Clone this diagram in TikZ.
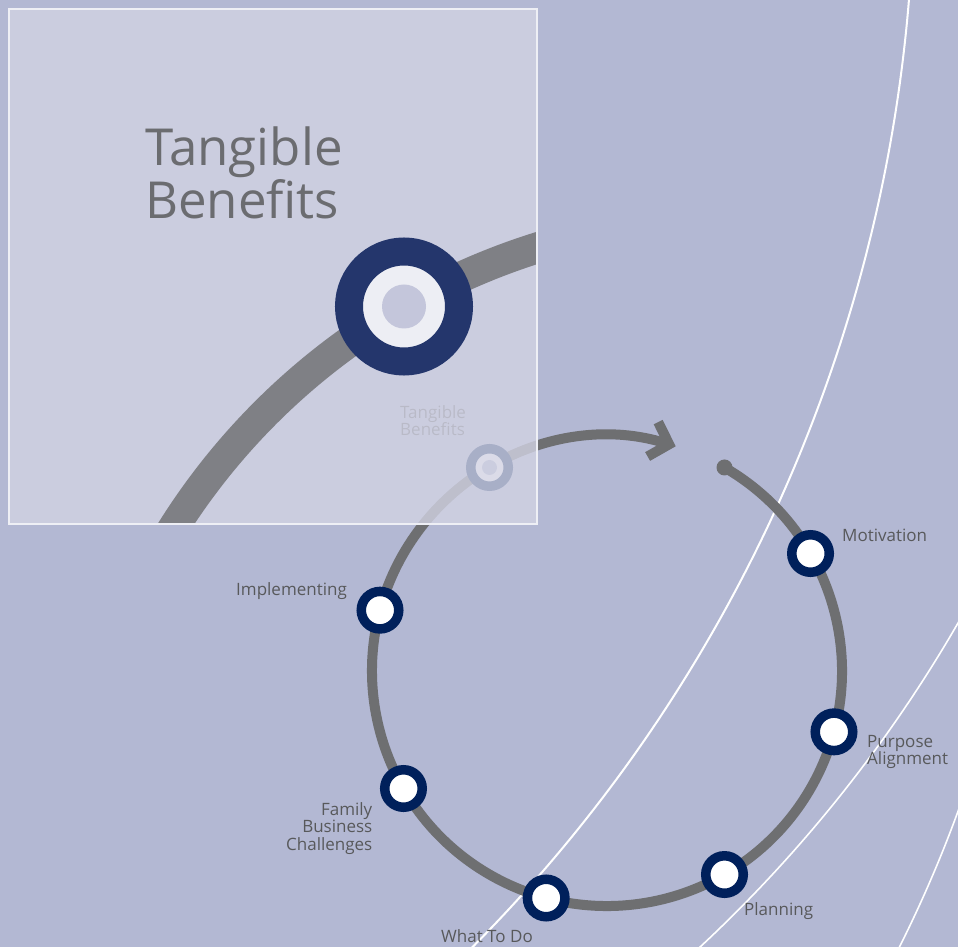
\documentclass[tikz,border=0pt]{standalone}
\usepackage{fontspec}
\setmainfont{Open Sans}
\usetikzlibrary{arrows.meta}
\definecolor{backColor}{RGB}{179,184,211}
\definecolor{pathColor}{RGB}{110,111,113}
\definecolor{stepColor}{RGB}{0,32,91}
\definecolor{labelColor}{RGB}{88,89,91}
\definecolor{insetColor}{RGB}{210,211,227}
\definecolor{insetLineColor}{RGB}{238,239,245}
\definecolor{zoomPathColor}{RGB}{127,128,133}
\definecolor{zoomStepColor}{RGB}{36,54,108}
\definecolor{zoomWhite}{RGB}{237,238,244}
\definecolor{zoomCentreColor}{RGB}{196,198,219}
\definecolor{titleColor}{RGB}{107,108,112}
\tikzstyle{pixels} = [x = 1pt, y = -1pt]
\tikzstyle{swoosh} = [color=white, line width=2pt]
\tikzstyle{thinSwoosh} = [color=white, line width=1.6pt]
\tikzstyle{cyclePath} = [color=pathColor, line width=10pt, -{Straight Barb[length=17pt, width=36pt]}]
\tikzstyle{startDot} = [circle, fill=pathColor, minimum size=16pt, inner sep=0pt]
\tikzstyle{stepStyle} = [circle, draw=stepColor, line width=9.5pt, fill=white, minimum size=37.5pt, inner sep=0pt]
\tikzstyle{stepText} = [color=labelColor, inner sep=0pt, font=\fontsize{17}{17.5}\selectfont]
\tikzstyle{insetStyle} = [fill=insetColor, fill opacity=.8, draw=insetLineColor, line width=2.5pt]
\tikzstyle{zoomPath} = [color=zoomPathColor, line width=31pt]
\tikzstyle{zoomStep} = [circle, draw=zoomStepColor, line width=28pt, fill=zoomWhite, minimum size=110pt, inner sep=0pt]
\tikzstyle{titleText} = [color=titleColor, inner sep=0pt, align=left, font=\fontsize{51}{50}\selectfont]
\newcommand{\stepNode}[2]{\path (centre) ++(#2:235) node [stepStyle] (#1) {};}
\newcommand{\insetBox}{(9,9) rectangle (537,524)}
\begin{document}
\begin{tikzpicture}[pixels]
  \useasboundingbox (0,0) rectangle (958,947);
  \fill [backColor] (0,0) rectangle (958,947);

  % white swooshes
  \begin{scope}
    \clip (0,0) rectangle (958,947);
    \draw [swoosh] (-606,-124) ++(4:1520) arc [start angle=4, end angle=46, radius=1520];
    \draw [thinSwoosh] (-255,-78) ++(29:1401) arc [start angle=29, end angle=48, radius=1401];
    \draw [thinSwoosh] (-263,365) ++(19:1300) arc [start angle=19, end angle=28, radius=1300];
  \end{scope}

  % the cycle
  \coordinate (centre) at (607,671);
  \path (centre) ++(-60:235) node [startDot] (start) {};
  \draw [cyclePath] (start.center) arc [start angle=-60, end angle=287, radius=235];
  \foreach \name/\angle in {motivation/-30, purpose/15, planning/60, whatToDo/105, family/150, implementing/195, benefits/240} {
    \stepNode{\name}{\angle}
  }
  \fill [backColor] (benefits.center) circle [radius=7.5];

  \node [stepText, anchor=base west] (motivationText) at (842,541) {Motivation};
  \node [stepText, anchor=north west, align=left] (purposeText) at (867,735) {Purpose\\Alignment};
  \node [stepText, anchor=base west] (planningText) at (744,915) {Planning};
  \node [stepText, anchor=base west] (whatToDoText) at (441,942) {What To Do};
  \node [stepText, anchor=north east, align=right] (familyText) at (372.5,802) {Family\\Business\\Challenges};
  \node [stepText, anchor=base west] (implementingText) at (236,595) {Implementing};
  \node [stepText, anchor=north west, align=left] (benefitsText) at (400,405) {Tangible\\Benefits};

  % zoomed inset
  \fill [insetStyle] \insetBox;
  \begin{scope}
    \clip \insetBox;
    \coordinate (zoomCentre) at (738,885);
    \draw [zoomPath] (zoomCentre) ++(205:668) arc [start angle=205, end angle=262, radius=668];
    \path (zoomCentre) ++(240:668) node [zoomStep] (bigBenefits) {};
    \fill [zoomCentreColor] (bigBenefits.center) circle [radius=22];
  \end{scope}
  \draw [insetLineColor, line width=2.5pt] \insetBox;
  \node [titleText, anchor=north west] (title) at (145,127) {Tangible\\Benefits};
\end{tikzpicture}
\end{document}
